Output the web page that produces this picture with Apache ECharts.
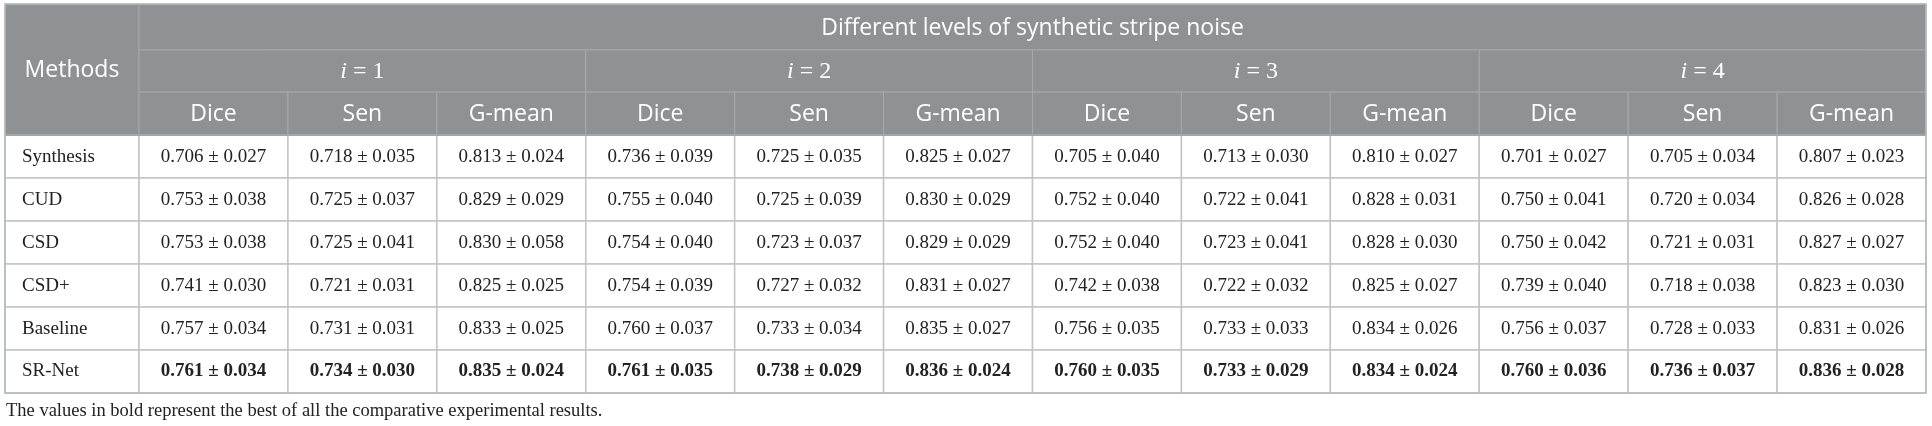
<!DOCTYPE html>
<html>
<head>
<meta charset="utf-8">
<script src="https://cdn.jsdelivr.net/npm/echarts@6/dist/echarts.min.js"></script>
<style>
  html, body { margin: 0; padding: 0; background: #fff; }
  #chart { width: 1932px; height: 426px; }
</style>
</head>
<body>
<div id="chart"></div>
<script>
// table content
const methods = ['Synthesis', 'CUD', 'CSD', 'CSD+', 'Baseline', 'SR-Net'];
const levels = ['1', '2', '3', '4'];
const metrics = ['Dice', 'Sen', 'G-mean'];
const bestMethod = 'SR-Net';

// [mean, std] for Dice, Sen, G-mean at i = 1..4
const synthesis = [[0.706, 0.027], [0.718, 0.035], [0.813, 0.024], [0.736, 0.039], [0.725, 0.035], [0.825, 0.027],
                   [0.705, 0.040], [0.713, 0.030], [0.810, 0.027], [0.701, 0.027], [0.705, 0.034], [0.807, 0.023]];
const cud = [[0.753, 0.038], [0.725, 0.037], [0.829, 0.029], [0.755, 0.040], [0.725, 0.039], [0.830, 0.029],
             [0.752, 0.040], [0.722, 0.041], [0.828, 0.031], [0.750, 0.041], [0.720, 0.034], [0.826, 0.028]];
const csd = [[0.753, 0.038], [0.725, 0.041], [0.830, 0.058], [0.754, 0.040], [0.723, 0.037], [0.829, 0.029],
             [0.752, 0.040], [0.723, 0.041], [0.828, 0.030], [0.750, 0.042], [0.721, 0.031], [0.827, 0.027]];
const csdPlus = [[0.741, 0.030], [0.721, 0.031], [0.825, 0.025], [0.754, 0.039], [0.727, 0.032], [0.831, 0.027],
                 [0.742, 0.038], [0.722, 0.032], [0.825, 0.027], [0.739, 0.040], [0.718, 0.038], [0.823, 0.030]];
const baseline = [[0.757, 0.034], [0.731, 0.031], [0.833, 0.025], [0.760, 0.037], [0.733, 0.034], [0.835, 0.027],
                  [0.756, 0.035], [0.733, 0.033], [0.834, 0.026], [0.756, 0.037], [0.728, 0.033], [0.831, 0.026]];
const srNet = [[0.761, 0.034], [0.734, 0.030], [0.835, 0.024], [0.761, 0.035], [0.738, 0.029], [0.836, 0.024],
               [0.760, 0.035], [0.733, 0.029], [0.834, 0.024], [0.760, 0.036], [0.736, 0.037], [0.836, 0.028]];
const rows = [synthesis, cud, csd, csdPlus, baseline, srNet];

const title = 'Different levels of synthetic stripe noise';
const footnote = 'The values in bold represent the best of all the comparative experimental results.';

// layout in axis units: method column 0.9 wide, each value column 1 wide
const methodW = 0.9;
const headerRows = [0, 1.07, 2.05, 3.05];   // row boundaries of the header
const nCols = levels.length * metrics.length;

const cells = [];
cells.push({ x0: 0, x1: methodW, y0: 0, y1: headerRows[3], kind: 'head', text: 'Methods' });
cells.push({ x0: methodW, x1: methodW + nCols, y0: 0, y1: headerRows[1], kind: 'head', text: title });
levels.forEach((lv, li) => {
    const x0 = methodW + li * metrics.length;
    cells.push({ x0: x0, x1: x0 + metrics.length, y0: headerRows[1], y1: headerRows[2], kind: 'level', text: lv });
    metrics.forEach((m, mi) => {
        cells.push({ x0: x0 + mi, x1: x0 + mi + 1, y0: headerRows[2], y1: headerRows[3], kind: 'head', text: m });
    });
});
methods.forEach((name, ri) => {
    const y0 = headerRows[3] + ri;
    cells.push({ x0: 0, x1: methodW, y0: y0, y1: y0 + 1, kind: 'name', text: name });
    rows[ri].forEach((v, ci) => {
        cells.push({
            x0: methodW + ci, x1: methodW + ci + 1, y0: y0, y1: y0 + 1,
            kind: 'val', bold: name === bestMethod,
            text: v[0].toFixed(3) + ' \u00b1 ' + v[1].toFixed(3)
        });
    });
});
const tableBottom = headerRows[3] + methods.length;
cells.push({ x0: 0, x1: methodW + nCols, y0: headerRows[3], y1: headerRows[3], kind: 'sep' });
cells.push({ x0: 0, x1: methodW + nCols, y0: 0, y1: tableBottom, kind: 'frame' });

const sansFont = '"Open Sans", "Noto Sans", sans-serif';
const serifFont = '"Liberation Serif", "DejaVu Serif", serif';

function renderCell(params, api) {
    const c = cells[params.dataIndex];
    const p0 = api.coord([api.value(0), api.value(2)]);
    const p1 = api.coord([api.value(1), api.value(3)]);
    const x = p0[0], y = p0[1], w = p1[0] - p0[0], h = p1[1] - p0[1];
    const cx = x + w / 2, cy = y + h / 2;

    if (c.kind === 'frame') {
        return { type: 'rect', shape: { x: x, y: y, width: w, height: h },
                 style: { fill: null, stroke: '#b3bcb9', lineWidth: 1.5 } };
    }
    if (c.kind === 'sep') {
        return { type: 'line', shape: { x1: x, y1: y, x2: p1[0], y2: y },
                 style: { stroke: '#a2a6a8', lineWidth: 2 } };
    }
    const isHead = c.kind === 'head' || c.kind === 'level';
    const children = [{
        type: 'rect',
        shape: { x: x, y: y, width: w, height: h },
        style: isHead
            ? { fill: '#8e9295', stroke: '#a5a9ab', lineWidth: 1 }
            : { fill: '#ffffff', stroke: '#c4c4c4', lineWidth: 1.5 }
    }];
    if (c.kind === 'head') {
        children.push({ type: 'text', x: cx, y: cy + 1,
            style: { text: c.text, fill: '#ffffff', font: '400 23px ' + sansFont, align: 'center', verticalAlign: 'middle' } });
    } else if (c.kind === 'level') {
        children.push({ type: 'text', x: cx, y: cy + 1,
            style: {
                text: '{it|i} = ' + c.text, fill: '#ffffff', align: 'center', verticalAlign: 'middle',
                font: '24px ' + serifFont,
                rich: { it: { fontFamily: serifFont, fontStyle: 'italic', fontSize: 24, fill: '#ffffff' } }
            } });
    } else if (c.kind === 'name') {
        children.push({ type: 'text', x: x + 17, y: cy,
            style: { text: c.text, fill: '#222222', font: '19px ' + serifFont, align: 'left', verticalAlign: 'middle' } });
    } else {
        children.push({ type: 'text', x: cx, y: cy,
            style: { text: c.text, fill: '#222222', font: (c.bold ? 'bold ' : '') + '19px ' + serifFont,
                     align: 'center', verticalAlign: 'middle' } });
    }
    return { type: 'group', children: children };
}

const chart = echarts.init(document.getElementById('chart'), null, { renderer: 'canvas' });

chart.setOption({
    animation: false,
    backgroundColor: '#ffffff',
    grid: { left: 5, right: 6, top: 4, bottom: 33 },
    xAxis: { type: 'value', min: 0, max: methodW + nCols, show: false },
    yAxis: { type: 'value', min: 0, max: tableBottom, inverse: true, show: false },
    graphic: [{
        type: 'text', left: 6, top: 402,
        style: { text: footnote, fill: '#222222', font: '18.5px ' + serifFont }
    }],
    series: [{
        type: 'custom',
        clip: false,
        silent: true,
        renderItem: renderCell,
        encode: { x: [0, 1], y: [2, 3] },
        data: cells.map(c => [c.x0, c.x1, c.y0, c.y1])
    }]
});

window.addEventListener('resize', () => chart.resize());
</script>
</body>
</html>
